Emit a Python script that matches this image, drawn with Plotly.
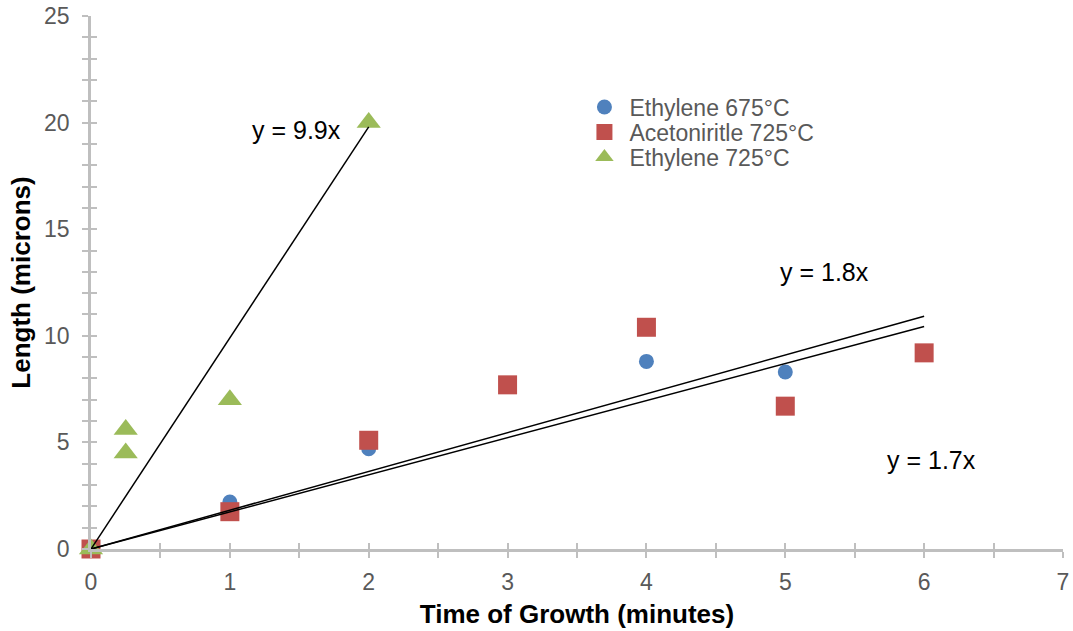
import plotly.graph_objects as go

# Data
eth675_x = [0, 1, 2, 4, 5]
eth675_y = [0, 2.2, 4.7, 8.8, 8.3]
acn725_x = [0, 1, 2, 3, 4, 5, 6]
acn725_y = [0, 1.75, 5.1, 7.7, 10.4, 6.7, 9.2]
eth725_x = [0, 0.25, 0.25, 1, 2]
eth725_y = [0, 5.6, 4.5, 7.0, 20.0]

trend_slopes = [9.9, 1.82, 1.74]
trend_xmax = [2, 6, 6]
trend_labels = ["y = 9.9x", "y = 1.8x", "y = 1.7x"]
label_pos_x = [1.48, 5.28, 6.05]
label_pos_y = [19.65, 13.0, 4.17]

series_names = ["Ethylene 675°C", "Acetoniritle 725°C", "Ethylene 725°C"]
colors = ["#4f81bd", "#c0504d", "#9bbb59"]

FONT = "Liberation Sans, Arial, sans-serif"

fig = go.Figure()

fig.add_trace(go.Scatter(x=eth675_x, y=eth675_y, mode="markers", name=series_names[0],
                         legend="legend", cliponaxis=False,
                         marker=dict(symbol="circle", size=15, color=colors[0])))
fig.add_trace(go.Scatter(x=acn725_x, y=acn725_y, mode="markers", name=series_names[1],
                         legend="legend2", cliponaxis=False,
                         marker=dict(symbol="square", size=19, color=colors[1])))
fig.add_trace(go.Scatter(x=eth725_x, y=eth725_y, mode="markers", name=series_names[2],
                         legend="legend3", cliponaxis=False,
                         marker=dict(symbol="triangle-up", size=21, color=colors[2])))

# trend lines (drawn over markers)
for s, xm in zip(trend_slopes, trend_xmax):
    fig.add_trace(go.Scatter(x=[0, xm], y=[0, s * xm], mode="lines", cliponaxis=False,
                             line=dict(color="black", width=1.5),
                             showlegend=False, hoverinfo="skip"))

# invisible trace for overlay axes (inside half of crossing ticks)
fig.add_trace(go.Scatter(x=[0], y=[0], xaxis="x2", yaxis="y2", mode="markers",
                         marker=dict(opacity=0), showlegend=False, hoverinfo="skip"))

for t, lx, ly in zip(trend_labels, label_pos_x, label_pos_y):
    fig.add_annotation(x=lx, y=ly, text=t, showarrow=False,
                       font=dict(family=FONT, size=25, color="black"))

axis_gray = "#bfbfbf"
tick_font = dict(family=FONT, size=23, color="#595959")
title_font = dict(family=FONT, size=26, color="black")
legend_font = dict(family=FONT, size=23, color="#595959")

def leg(yc):
    return dict(x=0.5025, y=yc, xanchor="left", yanchor="middle", font=legend_font,
                bgcolor="rgba(0,0,0,0)", itemsizing="trace", itemwidth=40)

fig.update_layout(
    width=1073, height=631,
    margin=dict(l=91, r=10, t=16, b=82, autoexpand=False),
    paper_bgcolor="white", plot_bgcolor="white",
    showlegend=True,
    legend=leg((549 - 107) / 533),
    legend2=leg((549 - 132) / 533),
    legend3=leg((549 - 157) / 533),
    xaxis=dict(range=[0, 7], tickvals=[0, 1, 2, 3, 4, 5, 6, 7],
               showgrid=False, zeroline=False, showline=True, linecolor=axis_gray, linewidth=2.5,
               ticks="outside", ticklen=6, tickwidth=2, tickcolor=axis_gray,
               minor=dict(dtick=0.5, ticks="outside", ticklen=6, tickwidth=2, tickcolor=axis_gray),
               tickfont=tick_font, ticklabelstandoff=5,
               title=dict(text="<b>Time of Growth (minutes)</b>", font=title_font, standoff=11)),
    yaxis=dict(range=[0, 25], tickvals=[0, 5, 10, 15, 20, 25],
               showgrid=False, zeroline=False, showline=True, linecolor=axis_gray, linewidth=2.5,
               ticks="outside", ticklen=6, tickwidth=2, tickcolor=axis_gray,
               minor=dict(dtick=1, ticks="outside", ticklen=6, tickwidth=2, tickcolor=axis_gray),
               tickfont=tick_font, ticklabelstandoff=8,
               title=dict(text="<b>Length (microns)</b>", font=title_font, standoff=6)),
    xaxis2=dict(range=[0, 7], overlaying="x", anchor="y2", tickvals=[0, 1, 2, 3, 4, 5, 6, 7],
                showgrid=False, zeroline=False, showline=False, showticklabels=False,
                ticks="inside", ticklen=6, tickwidth=2, tickcolor=axis_gray,
                minor=dict(dtick=0.5, ticks="inside", ticklen=6, tickwidth=2, tickcolor=axis_gray)),
    yaxis2=dict(range=[0, 25], overlaying="y", anchor="x2", tickvals=[0, 5, 10, 15, 20, 25],
                showgrid=False, zeroline=False, showline=False, showticklabels=False,
                ticks="inside", ticklen=6, tickwidth=2, tickcolor=axis_gray,
                minor=dict(dtick=1, ticks="inside", ticklen=6, tickwidth=2, tickcolor=axis_gray)),
)

fig.write_html("out.html")
